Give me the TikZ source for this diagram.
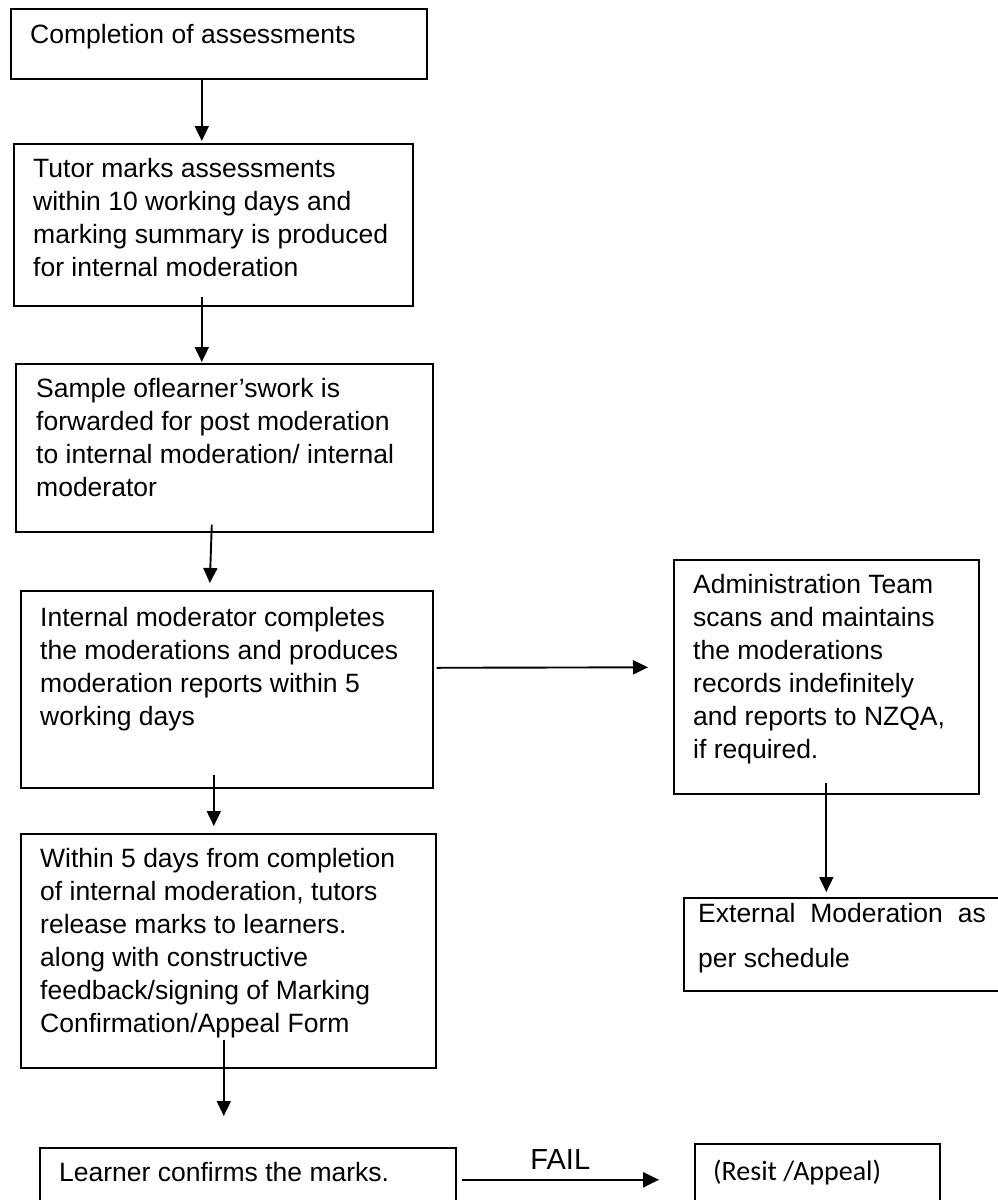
\documentclass[tikz,border=0pt]{standalone}
\usepackage{fontspec}
\setmainfont{Liberation Sans}
\newfontfamily\calibfont{Carlito}
\usetikzlibrary{arrows.meta,calc}
\begin{document}
\begin{tikzpicture}[x=1pt,y=-1pt,
  box/.style={draw, line width=1.6pt, inner sep=0pt, anchor=north west},
  txt/.style={anchor=base west, inner sep=0pt, font=\fontsize{26.5}{33}\selectfont},
  arr/.style={line width=1.9pt, -{Triangle[width=14pt,length=15pt]}}]
\useasboundingbox (0,0) rectangle (998,1200);
\clip (0,0) rectangle (998,1200);

% boxes
\node[box, minimum width=416pt, minimum height=70pt]  (b1) at (10,8) {};
\node[box, minimum width=399pt, minimum height=162pt] (b2) at (13,143) {};
\node[box, minimum width=417pt, minimum height=168pt] (b3) at (15,363) {};
\node[box, minimum width=412pt, minimum height=197pt] (b4) at (20,590) {};
\node[box, minimum width=415pt, minimum height=234pt] (b5) at (20,833) {};
\node[box, minimum width=416pt, minimum height=64pt]  (b6) at (39,1147) {};
\node[box, minimum width=245pt, minimum height=72pt]  (b7) at (694,1143) {};
\node[box, minimum width=305pt, minimum height=234pt] (r1) at (673,559) {};
\node[box, minimum width=320pt, minimum height=93pt]  (r2) at (683,897) {};

% texts
\node[txt] (t1) at ($(b1.north west)+(20,35)$) {\parbox[t]{400pt}{Completion of assessments}};
\node[txt] (t2) at ($(b2.north west)+(20,34)$) {\parbox[t]{390pt}{Tutor marks assessments\\within 10 working days and\\marking summary is produced\\for internal moderation}};
\node[txt] (t3) at ($(b3.north west)+(21,34)$) {\parbox[t]{400pt}{Sample oflearner’swork is\\forwarded for post moderation\\to internal moderation/ internal\\moderator}};
\node[txt] (t4) at ($(b4.north west)+(20,36)$) {\parbox[t]{400pt}{Internal moderator completes\\the moderations and produces\\moderation reports within 5\\working days}};
\node[txt] (t5) at ($(b5.north west)+(20,34)$) {\parbox[t]{400pt}{Within 5 days from completion\\of internal moderation, tutors\\release marks to learners.\\along with constructive\\feedback/signing of Marking\\Confirmation/Appeal Form}};
\node[txt] (t6) at ($(b6.north west)+(20,34)$) {\parbox[t]{400pt}{Learner confirms the marks.}};
\node[txt, font=\calibfont\fontsize{28}{33}\selectfont] (t7) at ($(b7.north west)+(19,37)$) {\parbox[t]{230pt}{(Resit /Appeal)}};
\node[txt] (tr1) at ($(r1.north west)+(20,34)$) {\parbox[t]{290pt}{Administration Team\\scans and maintains\\the moderations\\records indefinitely\\and reports to NZQA,\\if required.}};
\node[txt, font=\fontsize{26.5}{45}\selectfont] (tr2) at ($(r2.north west)+(15,25)$) {\parbox[t]{300pt}{External\hspace{15pt}Moderation\hspace{15pt}as\\per schedule}};

% connectors
\draw[arr] ([xshift=-17pt]b1.south) -- ([xshift=-17pt,yshift=2pt]b1.south |- b2.north);
\draw[arr] ([xshift=-11.5pt,yshift=10pt]b2.south) -- ([xshift=-11.5pt,yshift=1pt]b2.south |- b3.north);
\draw[arr] ([xshift=-12.5pt,yshift=8pt]b3.south) -- ([xshift=-17pt,yshift=7pt]b4.north);
\draw[arr] ([xshift=-13pt,yshift=14pt]b4.south) -- ([xshift=-13pt,yshift=7pt]b4.south |- b5.north);
\draw[arr] ([xshift=-4.5pt,yshift=29pt]b5.south) -- ([xshift=-4.5pt,yshift=31pt]b5.south |- b6.north);
\draw[arr] ([xshift=3pt,yshift=21.5pt]b4.east) -- ([xshift=-25pt,yshift=9.5pt]r1.west);
\draw[arr] ([yshift=12pt]r1.south) -- ([yshift=5pt]r1.south |- r2.north);
\draw[arr, line width=2.2pt, -{Triangle[width=15pt,length=16pt]}] ([xshift=5pt]b6.east) --
  node[pos=0.5, anchor=base, yshift=10pt, inner sep=0pt, font=\fontsize{29}{29}\selectfont] (fail) {FAIL}
  ([xshift=-35pt]b7.west);
\end{tikzpicture}
\end{document}
